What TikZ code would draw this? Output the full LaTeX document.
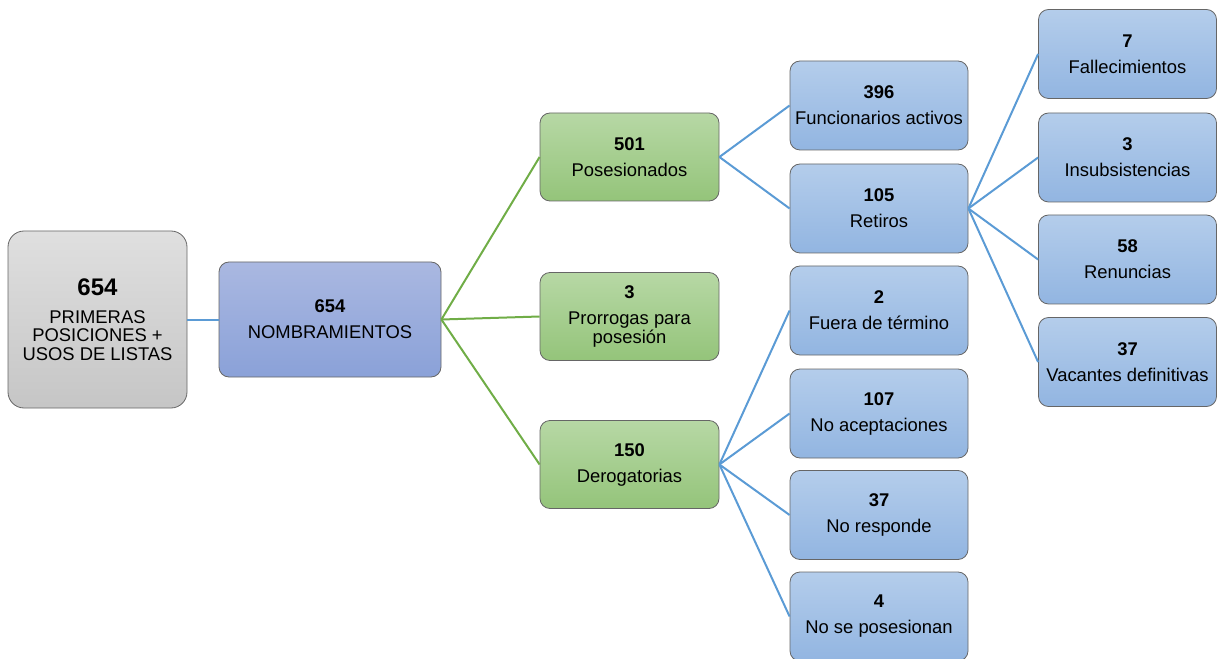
\documentclass[tikz,border=0pt]{standalone}
\usepackage{fontspec}
\setmainfont{Liberation Sans}
\begin{document}
\begin{tikzpicture}[x=0.75pt,y=-0.75pt,
  basebox/.style={draw=black!60, line width=0.6pt, rounded corners=7.5pt, align=center, inner sep=0pt,
    font=\fontsize{13.8}{14}\selectfont},
  graybox/.style={basebox, top color=gray!25, bottom color=gray!45, minimum width=134.25pt, minimum height=132.75pt, rounded corners=12pt},
  nombox/.style={basebox, top color={rgb,255:red,170;green,184;blue,225}, bottom color={rgb,255:red,138;green,161;blue,216}, minimum width=166.5pt, minimum height=86.25pt},
  greenbox/.style={basebox, top color={rgb,255:red,183;green,216;blue,165}, bottom color={rgb,255:red,148;green,196;blue,122}, minimum width=134.25pt, minimum height=66pt},
  bluebox/.style={basebox, top color={rgb,255:red,180;green,205;blue,235}, bottom color={rgb,255:red,146;green,181;blue,225}, minimum width=133.5pt, minimum height=66.75pt},
  gline/.style={draw={rgb,255:red,112;green,173;blue,71}, line width=1.5pt},
  bline/.style={draw={rgb,255:red,91;green,155;blue,213}, line width=1.5pt}
]
\useasboundingbox (0,0) rectangle (1217,659);

\node[graybox] (root) at (97.5,319.5) {{\fontsize{18}{20}\selectfont\bfseries 654}\\[7pt]PRIMERAS\\POSICIONES +\\USOS DE LISTAS};
\node[nombox] (nomb) at (330,319.5) {\textbf{654}\\[5.5pt]NOMBRAMIENTOS};

\node[greenbox] (pos) at (629.5,157) {\textbf{501}\\[5.5pt]Posesionados};
\node[greenbox] (pro) at (629.5,316.5) {\textbf{3}\\[5.5pt]Prorrogas para\\posesión};
\node[greenbox] (der) at (629.5,464.5) {\textbf{150}\\[5.5pt]Derogatorias};

\node[bluebox] (fun) at (879,105.5) {\textbf{396}\\[5.5pt]Funcionarios activos};
\node[bluebox] (ret) at (879,208.5) {\textbf{105}\\[5.5pt]Retiros};
\node[bluebox] (fue) at (879,310.5) {\textbf{2}\\[5.5pt]Fuera de término};
\node[bluebox] (noa) at (879,413.5) {\textbf{107}\\[5.5pt]No aceptaciones};
\node[bluebox] (nor) at (879,515) {\textbf{37}\\[5.5pt]No responde};
\node[bluebox] (nsp) at (879,616.5) {\textbf{4}\\[5.5pt]No se posesionan};

\node[bluebox] (fal) at (1127.5,54) {\textbf{7}\\[5.5pt]Fallecimientos};
\node[bluebox] (ins) at (1127.5,157.5) {\textbf{3}\\[5.5pt]Insubsistencias};
\node[bluebox] (ren) at (1127.5,259.5) {\textbf{58}\\[5.5pt]Renuncias};
\node[bluebox] (vac) at (1127.5,362) {\textbf{37}\\[5.5pt]Vacantes definitivas};

\draw[bline] (root.east) -- (nomb.west);
\draw[gline] (nomb.east) -- (pos.west);
\draw[gline] (nomb.east) -- (pro.west);
\draw[gline] (nomb.east) -- (der.west);
\draw[bline] (pos.east) -- (fun.west);
\draw[bline] (pos.east) -- (ret.west);
\draw[bline] (ret.east) -- (fal.west);
\draw[bline] (ret.east) -- (ins.west);
\draw[bline] (ret.east) -- (ren.west);
\draw[bline] (ret.east) -- (vac.west);
\draw[bline] (der.east) -- (fue.west);
\draw[bline] (der.east) -- (noa.west);
\draw[bline] (der.east) -- (nor.west);
\draw[bline] (der.east) -- (nsp.west);
\end{tikzpicture}
\end{document}
